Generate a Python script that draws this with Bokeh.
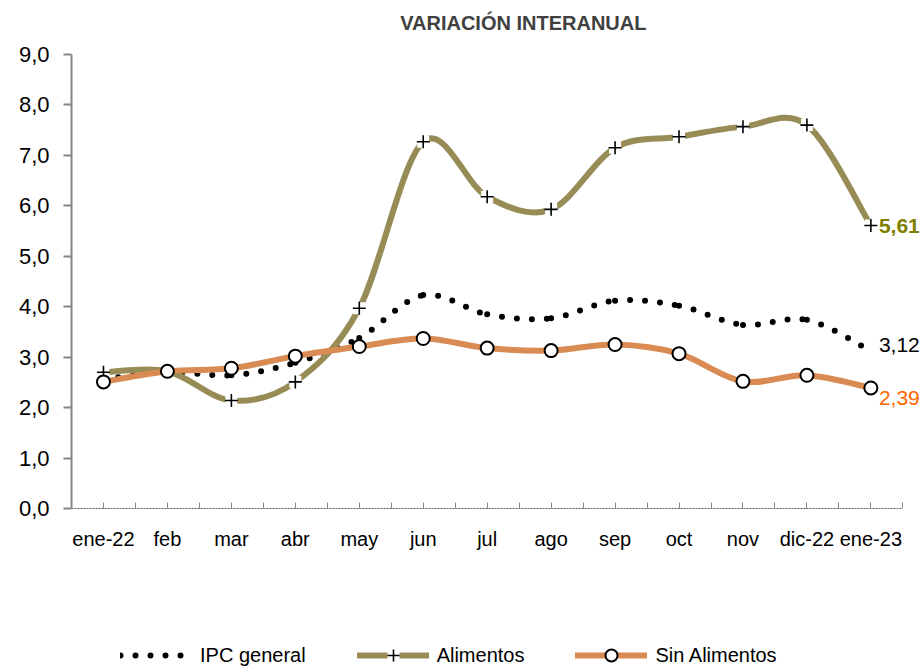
from bokeh.plotting import figure
from bokeh.models import FixedTicker, Label, Legend, LegendItem, ColumnDataSource, Range1d
from bokeh.embed import file_html
from bokeh.resources import INLINE

# ---------------- data ----------------
months = ["ene-22", "feb", "mar", "abr", "may", "jun", "jul", "ago",
          "sep", "oct", "nov", "dic-22", "ene-23"]
ipc_general = [2.56, 2.71, 2.64, 2.89, 3.38, 4.23, 3.85, 3.77, 4.12, 4.02, 3.64, 3.74, 3.12]
alimentos = [2.70, 2.72, 2.14, 2.51, 3.97, 7.27, 6.18, 5.93, 7.15, 7.37, 7.57, 7.60, 5.61]
sin_alimentos = [2.51, 2.72, 2.78, 3.02, 3.21, 3.37, 3.18, 3.13, 3.25, 3.07, 2.52, 2.64, 2.39]
series_names = ["IPC general", "Alimentos", "Sin Alimentos"]
y_ticks = [0, 1, 2, 3, 4, 5, 6, 7, 8, 9]
y_tick_labels = ["0,0", "1,0", "2,0", "3,0", "4,0", "5,0", "6,0", "7,0", "8,0", "9,0"]
title_text = "VARIACIÓN INTERANUAL"

FONT = "Liberation Sans"
OLIVE = "#978c56"
ORANGE = "#d98b53"

xs = list(range(len(months)))
Y_MIN, Y_MAX = 0, 9


def smooth_source(ys):
    """Bezier segments (Excel-like smoothing) between consecutive data points."""
    n = len(ys)
    d = dict(x0=[], y0=[], x1=[], y1=[], cx0=[], cy0=[], cx1=[], cy1=[])
    for i in range(n - 1):
        a = max(i - 1, 0)
        b = min(i + 2, n - 1)
        d["x0"].append(xs[i]); d["y0"].append(ys[i])
        d["x1"].append(xs[i + 1]); d["y1"].append(ys[i + 1])
        d["cx0"].append(xs[i] + (xs[i + 1] - xs[a]) / 6)
        d["cy0"].append(ys[i] + (ys[i + 1] - ys[a]) / 6)
        d["cx1"].append(xs[i + 1] - (xs[b] - xs[i]) / 6)
        d["cy1"].append(ys[i + 1] - (ys[b] - ys[i]) / 6)
    return ColumnDataSource(d)


# frame spans the whole canvas right of the y axis; axes are bounded to the data area
W, H = 924, 666
LEFT = 71
px_x = 63.95           # pixels per category
px_y = 50.44           # pixels per unit
top_pad, bottom_pad = 54, 158
x_lo = xs[0] - 0.5
x_hi = x_lo + (W - LEFT) / px_x
y_hi = Y_MAX + top_pad / px_y
y_lo = Y_MIN - bottom_pad / px_y

p = figure(width=W, height=H, output_backend="svg", toolbar_location=None,
           x_range=Range1d(x_lo, x_hi), y_range=Range1d(y_lo, y_hi),
           min_border=0, min_border_left=LEFT)
p.outline_line_color = None
p.xgrid.visible = False
p.ygrid.visible = False
p.background_fill_color = "white"
p.border_fill_color = "white"

# axes
p.yaxis.ticker = FixedTicker(ticks=y_ticks)
p.yaxis.bounds = (Y_MIN, Y_MAX)
p.yaxis.major_label_overrides = {t: l for t, l in zip(y_ticks, y_tick_labels)}
p.yaxis.axis_line_color = "#868686"
p.yaxis.axis_line_width = 2
p.yaxis.major_tick_line_color = "#868686"
p.yaxis.major_tick_line_width = 2
p.yaxis.major_tick_out = 8
p.yaxis.major_tick_in = 0
p.yaxis.minor_tick_line_color = None
p.yaxis.major_label_standoff = 14
p.yaxis.major_label_text_font = FONT
p.yaxis.major_label_text_font_size = "22px"
p.yaxis.major_label_text_color = "black"

p.xaxis.fixed_location = Y_MIN
p.xaxis.bounds = (xs[0] - 0.5, xs[-1] + 0.5)
p.xaxis.ticker = FixedTicker(ticks=xs, minor_ticks=[x - 0.5 for x in xs] + [xs[-1] + 0.5])
p.xaxis.major_label_overrides = {x: m for x, m in zip(xs, months)}
p.xaxis.axis_line_color = "#595959"
p.xaxis.axis_line_dash = "2 1"
p.xaxis.axis_line_width = 1
p.xaxis.major_tick_line_color = "#868686"
p.xaxis.minor_tick_line_color = "#868686"
p.xaxis.major_tick_in = 6
p.xaxis.major_tick_out = 0
p.xaxis.minor_tick_in = 6
p.xaxis.minor_tick_out = 0
p.xaxis.major_label_standoff = 20
p.xaxis.major_label_text_font = FONT
p.xaxis.major_label_text_font_size = "20px"
p.xaxis.major_label_text_color = "black"

# IPC general (dotted)
r_ipc = p.bezier(x0="x0", y0="y0", x1="x1", y1="y1", cx0="cx0", cy0="cy0", cx1="cx1", cy1="cy1",
                 source=smooth_source(ipc_general), line_color="black", line_width=6,
                 line_dash="0 15", line_cap="round")

# Alimentos
r_ali = p.bezier(x0="x0", y0="y0", x1="x1", y1="y1", cx0="cx0", cy0="cy0", cx1="cx1", cy1="cy1",
                 source=smooth_source(alimentos), line_color=OLIVE, line_width=6, line_cap="round")
r_ali_sq = p.scatter(xs, alimentos, marker="square", size=12, fill_color="white", line_color=None)
r_ali_x = p.scatter(xs, alimentos, marker="cross", size=13, line_color="black", line_width=1.6)

# Sin Alimentos
r_sin = p.bezier(x0="x0", y0="y0", x1="x1", y1="y1", cx0="cx0", cy0="cy0", cx1="cx1", cy1="cy1",
                 source=smooth_source(sin_alimentos), line_color=ORANGE, line_width=6, line_cap="round")
r_sin_c = p.scatter(xs, sin_alimentos, marker="circle", size=13, fill_color="white",
                    line_color="black", line_width=2)


# end labels
def fmt(v):
    return f"{v:.2f}".replace(".", ",")


p.add_layout(Label(x=xs[-1], y=alimentos[-1], text=fmt(alimentos[-1]), x_offset=8,
                   text_baseline="middle", text_font=FONT, text_font_size="21px",
                   text_font_style="bold", text_color="#808000"))
p.add_layout(Label(x=xs[-1], y=ipc_general[-1], text=fmt(ipc_general[-1]), x_offset=8, y_offset=6,
                   text_baseline="middle", text_font=FONT, text_font_size="21px", text_color="black"))
p.add_layout(Label(x=xs[-1], y=sin_alimentos[-1], text=fmt(sin_alimentos[-1]), x_offset=8, y_offset=-10,
                   text_baseline="middle", text_font=FONT, text_font_size="21px", text_color="#ff6600"))

# title (centred above the data area)
p.add_layout(Label(x=6.565, y=Y_MAX + 32 / px_y, text=title_text, text_align="center",
                   text_baseline="middle", text_font=FONT, text_font_size="20px",
                   text_font_style="bold", text_color="#404040"))

# legend
legend = Legend(items=[
    LegendItem(label=series_names[0], renderers=[r_ipc]),
    LegendItem(label=series_names[1], renderers=[r_ali, r_ali_sq, r_ali_x]),
    LegendItem(label=series_names[2], renderers=[r_sin, r_sin_c]),
], orientation="horizontal", location=(49, -4), glyph_width=72, glyph_height=30,
    label_standoff=8, spacing=51, padding=0, margin=0, border_line_color=None,
    background_fill_alpha=0, label_text_font=FONT, label_text_font_size="20px",
    label_text_color="black")
p.add_layout(legend, "center")

open("out.html", "w").write(file_html(p, INLINE))
